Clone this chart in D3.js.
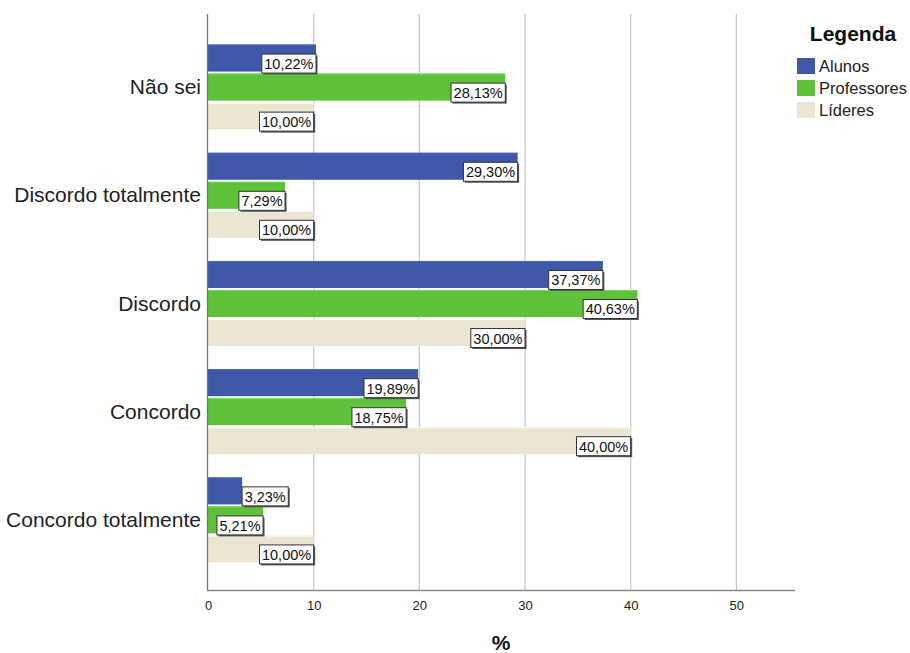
<!DOCTYPE html>
<html>
<head>
<meta charset="utf-8">
<script src="https://cdn.jsdelivr.net/npm/d3@7"></script>
<style>
  body { margin: 0; background: #fff; }
  svg { font-family: "Liberation Sans", Arial, sans-serif; }
</style>
</head>
<body>
<svg id="chart" width="910" height="653"></svg>
<script>
const categories = ["Não sei", "Discordo totalmente", "Discordo", "Concordo", "Concordo totalmente"];
const seriesNames = ["Alunos", "Professores", "Líderes"];
const alunos = [10.22, 29.30, 37.37, 19.89, 3.23];
const professores = [28.13, 7.29, 40.63, 18.75, 5.21];
const lideres = [10.00, 10.00, 30.00, 40.00, 10.00];
const xTicks = [0, 10, 20, 30, 40, 50];
const colors = ["#3f59a9", "#5dc13a", "#ebe5d3"];

const seriesValues = [alunos, professores, lideres];
const svg = d3.select("#chart");

const x = d3.scaleLinear().domain([0, 55.55]).range([208, 795]);
const y = d3.scaleBand().domain(categories).range([33, 574]).paddingInner(0.214).paddingOuter(0.107);
const ySub = d3.scaleBand().domain(seriesNames).range([0, y.bandwidth()]).paddingInner(0.07);

const plotTop = 14, plotBottom = 590;

// gridlines
svg.append("g").selectAll("line").data(xTicks.filter(d => d > 0)).join("line")
  .attr("x1", d => x(d)).attr("x2", d => x(d))
  .attr("y1", plotTop).attr("y2", plotBottom)
  .attr("stroke", "#c8c8c8").attr("stroke-width", 1.2);

// bars
const data = [];
categories.forEach((c, i) => seriesNames.forEach((s, j) => data.push({c, s, j, v: seriesValues[j][i]})));

const gBars = svg.append("g");
gBars.selectAll("rect").data(data).join("rect")
  .attr("x", x(0))
  .attr("y", d => y(d.c) + ySub(d.s))
  .attr("width", d => x(d.v) - x(0))
  .attr("height", ySub.bandwidth())
  .attr("fill", d => colors[d.j]);
// lighter top edge
gBars.selectAll("line").data(data).join("line")
  .attr("x1", x(0)).attr("x2", d => x(d.v))
  .attr("y1", d => y(d.c) + ySub(d.s) + 0.5).attr("y2", d => y(d.c) + ySub(d.s) + 0.5)
  .attr("stroke", d => d3.color(colors[d.j]).brighter(0.4)).attr("stroke-width", 1);

// axes lines
svg.append("line").attr("x1", 207.5).attr("x2", 207.5).attr("y1", plotTop).attr("y2", plotBottom)
  .attr("stroke", "#777").attr("stroke-width", 1.3);
svg.append("line").attr("x1", 207).attr("x2", 795).attr("y1", plotBottom + 0.5).attr("y2", plotBottom + 0.5)
  .attr("stroke", "#888").attr("stroke-width", 1.3);

// x tick labels
const xAxis = d3.axisBottom(x).tickValues(xTicks).tickSize(0).tickPadding(0).tickFormat(d3.format("d"));
const gx = svg.append("g").attr("transform", `translate(0,${plotBottom + 11})`).call(xAxis);
gx.select(".domain").remove();
gx.selectAll("text").attr("font-size", 13).attr("fill", "#222").attr("font-family", "Liberation Sans, Arial, sans-serif");

// x title
svg.append("text").attr("x", 501).attr("y", 650).attr("text-anchor", "middle")
  .attr("font-size", 21).attr("font-weight", "bold").attr("fill", "#111").text("%");

// category labels
svg.append("g").selectAll("text").data(categories).join("text")
  .attr("x", 201).attr("y", d => y(d) + y.bandwidth() / 2 + 7)
  .attr("text-anchor", "end").attr("font-size", 21).attr("fill", "#222").text(d => d);

// value labels
const fmt = v => v.toFixed(2).replace(".", ",") + "%";
const gLab = svg.append("g");
data.forEach(d => {
  const g = gLab.append("g");
  const t = g.append("text").attr("font-size", 14.5).attr("fill", "#111").text(fmt(d.v));
  const tw = t.node().getComputedTextLength();
  const bw = tw + 5, bh = 19;
  const end = x(d.v);
  let bx = end - bw;
  if (bx < x(0)) bx = end;
  const by = y(d.c) + ySub(d.s) + ySub.bandwidth() - bh + 1.5;
  g.insert("rect", "text").attr("x", bx + 1.5).attr("y", by + 1.5).attr("width", bw).attr("height", bh).attr("fill", "#555");
  g.insert("rect", "text").attr("x", bx).attr("y", by).attr("width", bw).attr("height", bh)
    .attr("fill", "#fff").attr("stroke", "#333").attr("stroke-width", 1);
  t.attr("x", bx + 2.5).attr("y", by + 15);
});

// legend
svg.append("text").attr("x", 853).attr("y", 41).attr("text-anchor", "middle")
  .attr("font-size", 21).attr("font-weight", "bold").attr("fill", "#111").text("Legenda");
const lg = svg.append("g").selectAll("g").data(seriesNames).join("g")
  .attr("transform", (d, i) => `translate(797,${58 + i * 22})`);
lg.append("rect").attr("width", 18).attr("height", 16).attr("fill", (d, i) => colors[i]);
lg.append("text").attr("x", 22).attr("y", 14).attr("font-size", 16.5).attr("fill", "#222").text(d => d);
</script>
</body>
</html>
